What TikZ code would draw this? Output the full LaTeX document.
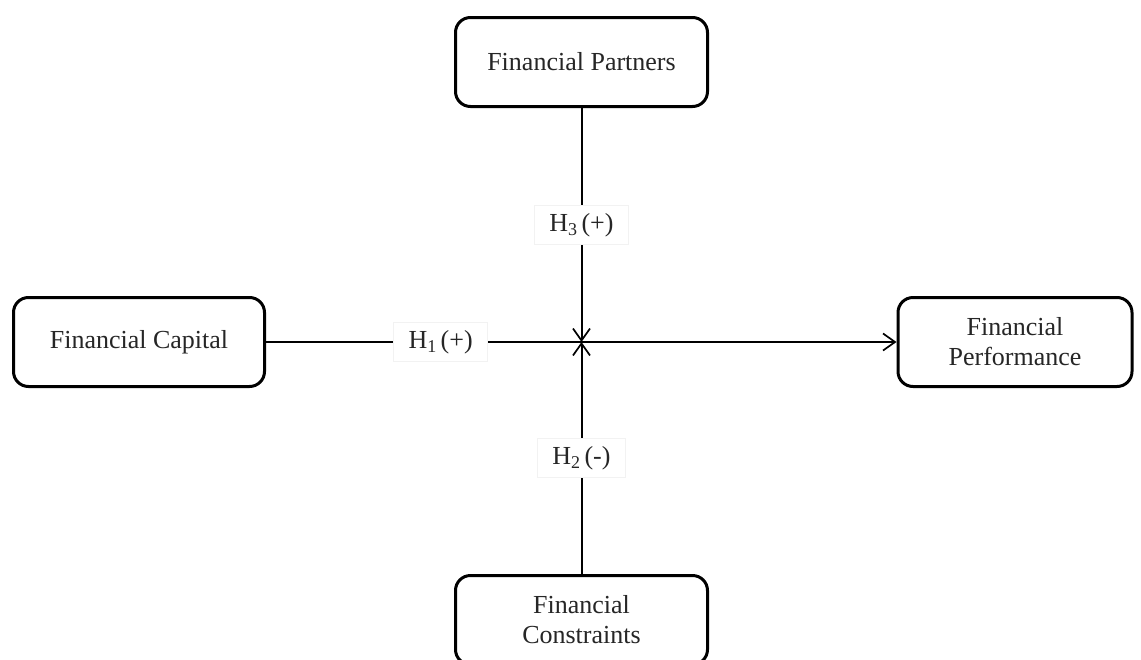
\documentclass[tikz,border=0pt]{standalone}
\usepackage{fontspec}
\setmainfont{Liberation Serif}
\usetikzlibrary{arrows.meta}
\newcommand{\hsub}[1]{\raisebox{-0.35ex}{\fontsize{18}{18}\selectfont #1}}
\begin{document}
\begin{tikzpicture}[x=1pt,y=-1pt,
  box/.style={draw=black,line width=3pt,rounded corners=15pt,fill=white,align=center,
    font=\fontsize{26}{30}\selectfont,inner sep=0pt,text=black!85},
  link/.style={line width=2pt,-{Straight Barb[length=12pt,width=17pt,line width=1.7pt]}},
  hlab/.style={fill=white,draw=black!5,line width=0.6pt,font=\fontsize{26}{30}\selectfont,
    inner xsep=15pt,inner ysep=8pt,text=black!85}
]
\useasboundingbox (0,0) rectangle (1141,659);
\begin{scope}
\clip (0,0) rectangle (1141,659);
\node[box,minimum width=252pt,minimum height=89pt] (P) at (581.5,62) {Financial Partners};
\node[box,minimum width=251pt,minimum height=89pt] (C) at (139,342) {Financial Capital};
\node[box,minimum width=234pt,minimum height=89pt] (F) at (1015,342) {Financial\\Performance};
\node[box,minimum width=252pt,minimum height=89pt] (K) at (581.5,620) {Financial\\Constraints};
\coordinate (M) at (581.5,342);
\draw[link] (C.east) -- (F.west) node[hlab,pos=0.277] (h1) {H\hsub{1}\,(+)};
\draw[link] (P.south) -- (M) node[hlab,pos=0.5] (h3) {H\hsub{3}\,(+)};
\draw[link] (K.north) -- (M) node[hlab,pos=0.5] (h2) {H\hsub{2}\,(-)};
\end{scope}
\end{tikzpicture}
\end{document}
